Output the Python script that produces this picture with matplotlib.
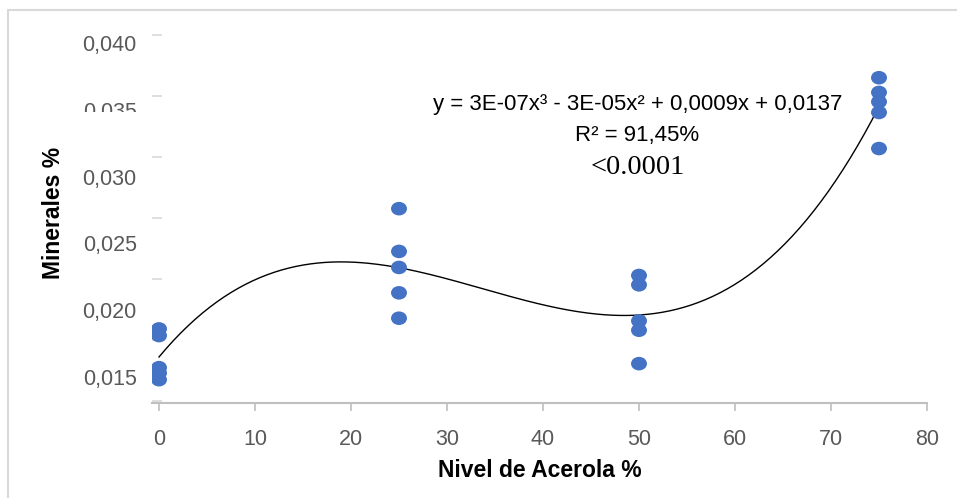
import numpy as np
import matplotlib
matplotlib.use("Agg")
import matplotlib.pyplot as plt
from matplotlib.path import Path
from matplotlib.markers import MarkerStyle
from matplotlib.lines import Line2D
from matplotlib.patches import Rectangle
from matplotlib.ticker import FixedLocator

# ---- data ----
nivel = [0, 0, 0, 0, 0,
         25, 25, 25, 25, 25,
         50, 50, 50, 50, 50,
         75, 75, 75, 75, 75]
minerales = [0.0186, 0.0181, 0.0157, 0.0153, 0.0148,
             0.0276, 0.0244, 0.0232, 0.0213, 0.0194,
             0.0226, 0.0219, 0.0192, 0.0185, 0.0160,
             0.0374, 0.0363, 0.0356, 0.0348, 0.0321]
x_ticks = [0, 10, 20, 30, 40, 50, 60, 70, 80]
y_ticks = [0.015, 0.020, 0.025, 0.030, 0.035, 0.040]
y_ticklabels = ["0,015", "0,020", "0,025", "0,030", "0,035", "0,040"]
eq_text = "y = 3E-07x³ - 3E-05x² + 0,0009x + 0,0137"
r2_text = "R² = 91,45%"
p_text = "<0.0001"

W, H = 957, 498
fig = plt.figure(figsize=(W / 100, H / 100), dpi=100)
fig.patch.set_facecolor("white")

sans = ["Liberation Sans", "DejaVu Sans"]

ax = fig.add_axes([152 / W, (H - 403) / H, (927 - 152) / W, (403 - 30) / H])

# elliptical marker (slightly wider than tall)
circ = Path.unit_circle()
ell = Path(circ.vertices * np.array([1.0, 0.85]), circ.codes)
ax.scatter(nivel, minerales, marker=MarkerStyle(ell), s=11.5 ** 2,
           color="#4472C4", edgecolors="none", zorder=3)

# cubic trendline
coef = np.polyfit(nivel, minerales, 3)
xs = np.linspace(0, 75, 300)
ax.plot(xs, np.polyval(coef, xs), color="black", lw=1.0, zorder=2)

ax.set_xlim(-0.73, 80)
ax.set_ylim(0.013054, 0.040973)

for s in ["top", "right", "left"]:
    ax.spines[s].set_visible(False)
ax.spines["bottom"].set_color("#BFBFBF")
ax.spines["bottom"].set_linewidth(1.5)

ax.set_xticks(x_ticks)
ax.set_xticklabels([str(v) for v in x_ticks], fontfamily=sans, fontsize=15.5,
                   color="#595959")
ax.tick_params(axis="x", direction="out", length=6, width=1.2, color="#BFBFBF",
               pad=13)

ax.set_yticks(y_ticks)
ax.set_yticklabels(y_ticklabels, fontfamily=sans, fontsize=15.5, color="#595959")
ax.tick_params(axis="y", which="major", length=0, pad=11)
step = 0.004566
ax.yaxis.set_minor_locator(FixedLocator([0.01320 + k * step for k in range(7)]))
ax.tick_params(axis="y", which="minor", direction="in", length=7, width=1.2,
               color="#D9D9D9")

ax.set_xlabel("Nivel de Acerola %", fontfamily=sans, fontsize=16.5, fontweight="bold",
              labelpad=6)
ax.set_ylabel("Minerales %", fontfamily=sans, fontsize=16.5, fontweight="bold")
ax.yaxis.set_label_coords((65 - 152) / (927 - 152), (403 - 213) / (403 - 30))

# annotation texts
fig.text(637.5 / W, (H - 104) / H, eq_text, ha="center", va="center",
         fontfamily=sans, fontsize=16, color="black", zorder=10)
fig.text(637 / W, (H - 135) / H, r2_text, ha="center", va="center",
         fontfamily=sans, fontsize=16, color="black", zorder=10)
fig.text(638 / W, (H - 167) / H, p_text, ha="center", va="center",
         fontfamily=["Liberation Serif", "DejaVu Serif"], fontsize=20.5,
         color="black", zorder=10)

# white box hiding the lower part of the 0,035 label (as in reference)
fig.patches.append(Rectangle((70 / W, (H - 130) / H), 72 / W, 18 / H,
                             transform=fig.transFigure, facecolor="white",
                             edgecolor="none", zorder=5))

# outer frame (open on right/bottom)
fig.lines.append(Line2D([8 / W, 8 / W], [0, (H - 10) / H], transform=fig.transFigure,
                        color="#D9D9D9", lw=1.5))
fig.lines.append(Line2D([8 / W, 1], [(H - 10) / H, (H - 10) / H],
                        transform=fig.transFigure, color="#D9D9D9", lw=1.5))

fig.savefig("out.png", dpi=100)
